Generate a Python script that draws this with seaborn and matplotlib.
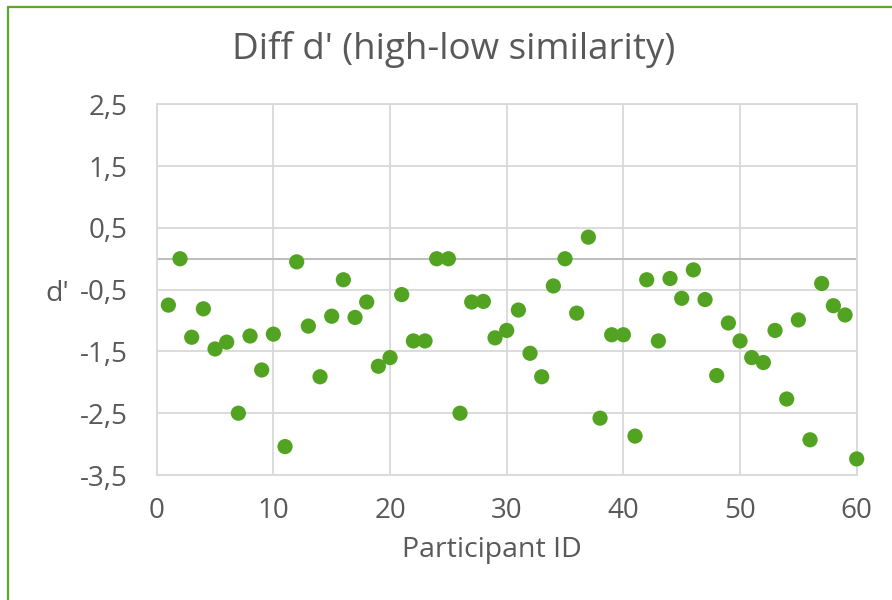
import matplotlib
matplotlib.use("Agg")
import matplotlib.pyplot as plt
import matplotlib.ticker as mticker
from matplotlib.lines import Line2D
import seaborn as sns
import numpy as np
import pandas as pd

participant_ids = list(range(1, 61))
diff_dprime = [
    -0.75, 0.00, -1.27, -0.81, -1.46, -1.35, -2.50, -1.25, -1.80, -1.22,
    -3.04, -0.05, -1.09, -1.91, -0.93, -0.34, -0.95, -0.70, -1.74, -1.60,
    -0.58, -1.33, -1.33, 0.00, 0.00, -2.50, -0.70, -0.69, -1.28, -1.16,
    -0.83, -1.53, -1.91, -0.44, 0.00, -0.88, 0.35, -2.58, -1.23, -1.23,
    -2.87, -0.34, -1.33, -0.32, -0.64, -0.18, -0.66, -1.89, -1.04, -1.33,
    -1.60, -1.68, -1.16, -2.27, -0.99, -2.93, -0.40, -0.76, -0.91, -3.24,
]
y_ticks = [-3.5, -2.5, -1.5, -0.5, 0.5, 1.5, 2.5]
x_ticks = [0, 10, 20, 30, 40, 50, 60]

df = pd.DataFrame({"Participant ID": participant_ids, "d'": diff_dprime})

sns.set_theme(style="white")
plt.rcParams['font.family'] = ['Open Sans', 'DejaVu Sans']

text_color = "#595959"
grid_color = "#D9D9D9"

fig = plt.figure(figsize=(8.92, 6.0), dpi=100)
ax = fig.add_axes([156.7/892, 1-475/600, 700/892, (475-104.3)/600])

sns.scatterplot(data=df, x="Participant ID", y="d'", ax=ax,
                color="#53A322", s=120, edgecolor="none", zorder=5, clip_on=False)

ax.set_xlim(0, 60)
ax.set_ylim(-3.5, 2.5)
ax.set_xticks(x_ticks)
ax.set_yticks(y_ticks)
ax.yaxis.set_major_formatter(mticker.FuncFormatter(lambda v, p: f"{v:.1f}".replace(".", ",")))
ax.grid(True, color=grid_color, linewidth=1.3, zorder=0)
ax.set_axisbelow(True)
for sp in ax.spines.values():
    sp.set_color(grid_color)
    sp.set_linewidth(1.3)
ax.axhline(0, color="#BFBFBF", linewidth=1.5, zorder=1)

ax.tick_params(axis="both", length=0, labelsize=20, labelcolor=text_color)
ax.tick_params(axis="y", pad=21)
ax.tick_params(axis="x", pad=16)
ax.set_xlabel("")
ax.set_ylabel("")

fig.text(454/892, 1-50/600, "Diff d' (high-low similarity)", ha="center", va="center",
         fontsize=26.5, color=text_color)
fig.text(492/892, 1-550/600, "Participant ID", ha="center", va="center",
         fontsize=20.5, color=text_color)
fig.text(57/892, 1-294/600, "d'", ha="center", va="center",
         fontsize=20.5, color=text_color)

# chart border (green, left and top visible)
border_color = "#5BA829"
fig.add_artist(Line2D([8/892, 8/892], [0, 1-7/600], color=border_color, linewidth=1.6))
fig.add_artist(Line2D([8/892, 1], [1-7/600, 1-7/600], color=border_color, linewidth=1.6))

fig.savefig("out.png", dpi=100, facecolor="white")
